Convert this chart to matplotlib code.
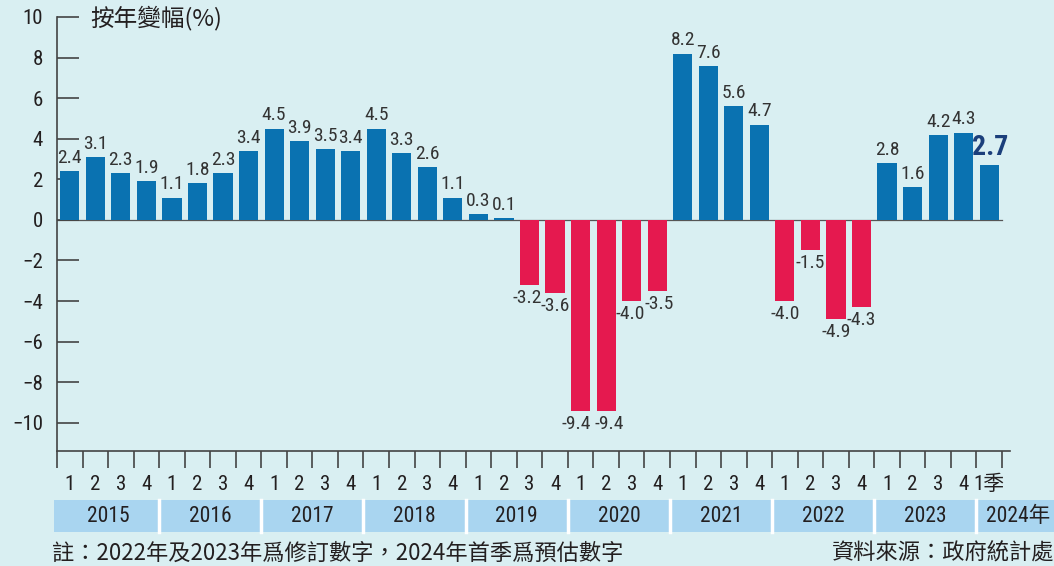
import matplotlib.pyplot as plt
from matplotlib.patches import Rectangle
from matplotlib.transforms import blended_transform_factory
import numpy as np

num_font = ['Roboto Condensed', 'Roboto', 'Noto Sans CJK TC', 'DejaVu Sans']
plt.rcParams['font.family'] = num_font

# 數據：按年變幅(%)
years = ['2015', '2016', '2017', '2018', '2019', '2020', '2021', '2022', '2023', '2024年']
quarters = ['1', '2', '3', '4'] * 9 + ['1季']
values = [2.4, 3.1, 2.3, 1.9,
          1.1, 1.8, 2.3, 3.4,
          4.5, 3.9, 3.5, 3.4,
          4.5, 3.3, 2.6, 1.1,
          0.3, 0.1, -3.2, -3.6,
          -9.4, -9.4, -4.0, -3.5,
          8.2, 7.6, 5.6, 4.7,
          -4.0, -1.5, -4.9, -4.3,
          2.8, 1.6, 4.2, 4.3,
          2.7]

bg = '#d9eff2'
azul = '#0a72b1'
vermelho = '#e5194f'
faixa = '#a9d5f0'
texto = '#231f20'

W, H = 1054, 566
fig = plt.figure(figsize=(W / 100, H / 100), dpi=100)
fig.patch.set_facecolor(bg)

slot = 25.54
ax = fig.add_axes([57 / W, 1 - 451 / H, (1010 - 57) / W, (451 - 17) / H])
ax.set_facecolor(bg)

n = len(values)
x = np.arange(n) + 0.5
cores = [azul if v >= 0 else vermelho for v in values]
ax.bar(x, values, width=0.75, color=cores, zorder=2)

xmax = (1010 - 57) / slot
ax.set_xlim(0, xmax)
ax.set_ylim(-11.39, 10)

for s in ['top', 'right']:
    ax.spines[s].set_visible(False)
for s in ['left', 'bottom']:
    ax.spines[s].set_color('#444444')
    ax.spines[s].set_linewidth(1.2)

ax.axhline(0, xmin=0, xmax=n / xmax, color='#555555', lw=0.9, zorder=1)

# eixo y
yt = list(range(-10, 11, 2))
ax.set_yticks(yt, [str(t).replace('-', '−') for t in yt])
ax.tick_params(axis='y', direction='in', length=16, width=1.2, color='#444444',
               labelsize=15, labelcolor=texto, pad=10)

# eixo x: marcas nos limites, rótulos nos centros
ax.set_xticks(np.arange(n + 1))
ax.set_xticklabels([])
ax.tick_params(axis='x', which='major', direction='out', length=12, width=1.2, color='#444444')
ax.set_xticks(x, quarters, minor=True)
ax.tick_params(axis='x', which='minor', length=0, pad=17, labelsize=15, labelcolor=texto)

# rótulos de valor (pequenos deslocamentos onde os rótulos se tocam)
desloc = {18: -1.5, 20: -3.5, 21: 2, 22: -1, 23: 1.5}
for i, v in enumerate(values):
    rot = f'{v:.1f}'
    if i == n - 1:
        ax.annotate(rot, (x[i], v), xytext=(1, 3), textcoords='offset points',
                    ha='center', va='bottom', fontsize=20, fontweight='bold', color='#1b3f7b')
    else:
        ax.annotate(rot, (x[i], v), xytext=(desloc.get(i, 0), 3 if v >= 0 else -3),
                    textcoords='offset points', ha='center',
                    va='bottom' if v >= 0 else 'top', fontsize=14, color='#333333')

# faixa dos anos
tr = blended_transform_factory(ax.transData, fig.transFigure)
y0 = 1 - 532 / H
hb = 32 / H
ax.add_patch(Rectangle((-0.12, y0), 40, hb, transform=tr, color=faixa, clip_on=False, lw=0))
for b in range(4, n, 4):
    ax.plot([b, b], [y0, y0 + hb], transform=tr, color='white', lw=2.5, clip_on=False)
for k, ano in enumerate(years):
    cx = 4 * k + 2 if k < len(years) - 1 else 37.65
    ax.text(cx, y0 + hb / 2, ano, transform=tr, ha='center', va='center',
            fontsize=15.5, color=texto)

cjk = ['Noto Sans CJK TC', 'DejaVu Sans']
fig.text(90 / W, 1 - 18 / H, '按年變幅(%)', family=cjk, fontsize=17, color=texto,
         ha='left', va='center')
fig.text(52 / W, 1 - 553 / H, '註：2022年及2023年爲修訂數字，2024年首季爲預估數字', family=cjk,
         fontsize=16, color=texto, ha='left', va='center')
fig.text(1.0, 1 - 553 / H, '資料來源：政府統計處', family=cjk, fontsize=16, color=texto,
         ha='right', va='center')

fig.savefig('out.png', dpi=100, facecolor=bg)
